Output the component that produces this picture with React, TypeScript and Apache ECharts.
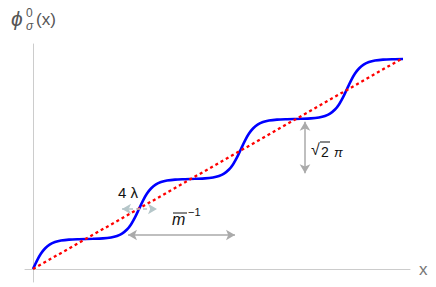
import React, { useEffect, useRef } from "react";
import * as echarts from "echarts";

// x in pixel-like units from origin, y in step units
const blueX = [0, 4, 8, 12, 17, 22, 28, 36, 46, 60, 70, 78, 84, 89, 94, 98, 102, 106, 110, 114, 118, 123, 128, 134, 142, 152, 162, 172, 180, 186, 191, 196, 200, 204, 208, 212, 216, 220, 225, 230, 236, 244, 254, 268, 278, 286, 292, 297, 302, 306, 310, 314, 318, 322, 326, 331, 336, 342, 350, 360, 370];
const blueY = [0, 0.141, 0.257, 0.342, 0.41, 0.449, 0.474, 0.49, 0.497, 0.503, 0.51, 0.526, 0.551, 0.59, 0.658, 0.743, 0.859, 1.0, 1.141, 1.257, 1.342, 1.41, 1.449, 1.474, 1.49, 1.497, 1.503, 1.51, 1.526, 1.551, 1.59, 1.658, 1.743, 1.859, 2.0, 2.141, 2.257, 2.342, 2.41, 2.449, 2.474, 2.49, 2.497, 2.503, 2.51, 2.526, 2.551, 2.59, 2.658, 2.743, 2.859, 3.0, 3.141, 3.257, 3.342, 3.41, 3.449, 3.474, 3.49, 3.497, 3.5];
const redX = [0, 370];
const redY = [0, 3.517];

export default function App() {
  const ref = useRef<HTMLDivElement>(null);
  useEffect(() => {
    if (!ref.current) return;
    const chart = echarts.init(ref.current, null, { renderer: "svg" });
    const arrowGray = "#aaaaaa";
    const F = "'Liberation Sans', Arial, sans-serif";
    const mkArrow = (a: number[], b: number[], color: string, type: any = "solid") => ({
      symbol: ["arrow", "arrow"],
      symbolSize: [8, 9],
      silent: true,
      label: { show: false },
      lineStyle: { color, width: 1.5, type },
      data: [[{ coord: a }, { coord: b }]],
    });
    chart.setOption({
      animation: false,
      grid: { left: 25, right: 26, top: 44, bottom: 5 },
      xAxis: {
        type: "value",
        min: -8,
        max: 377,
        axisLine: { onZero: true, lineStyle: { color: "#cccccc", width: 1 } },
        axisTick: { show: false },
        axisLabel: { show: false },
        splitLine: { show: false },
      },
      yAxis: {
        type: "value",
        min: -0.2167,
        max: 3.75,
        axisLine: { show: true, onZero: true, lineStyle: { color: "#cccccc", width: 1 } },
        axisTick: { show: false },
        axisLabel: { show: false },
        splitLine: { show: false },
      },
      series: [
        {
          type: "line",
          data: blueX.map((x, i) => [x, blueY[i]]),
          smooth: 0.3,
          showSymbol: false,
          lineStyle: { color: "#0000ff", width: 2.6 },
          z: 3,
          markLine: mkArrow([272, 2.455], [272, 1.595], arrowGray),
        },
        {
          type: "line",
          data: redX.map((x, i) => [x, redY[i]]),
          showSymbol: false,
          lineStyle: { color: "#ff0000", width: 2.3, type: [3, 3] },
          z: 4,
          markLine: mkArrow([95, 0.567], [202, 0.567], arrowGray),
        },
        {
          type: "line",
          data: [],
          markLine: mkArrow([89, 1.0], [124, 1.0], "#b5c6c9", [4, 3]),
        },
      ],
      graphic: [
        { type: "text", left: 11, top: 8, style: { text: "ϕ", font: `italic 21px ${F}`, fill: "#555" } },
        { type: "text", left: 26, top: 7, style: { text: "0", font: `12px ${F}`, fill: "#555" } },
        { type: "text", left: 26, top: 20, style: { text: "σ", font: `italic 12px ${F}`, fill: "#555" } },
        { type: "text", left: 36, top: 11, style: { text: "(x)", font: `17px ${F}`, fill: "#555" } },
        { type: "text", left: 419, top: 261, style: { text: "x", font: `17px ${F}`, fill: "#777" } },
        { type: "text", left: 118, top: 185, style: { text: "4 λ", font: `15px ${F}`, fill: "#111" } },
        { type: "text", left: 172, top: 211, style: { text: "m", font: `italic 16px ${F}`, fill: "#111" } },
        { type: "line", shape: { x1: 173, y1: 213, x2: 187, y2: 213 }, style: { stroke: "#111", lineWidth: 1 } },
        { type: "text", left: 188, top: 206, style: { text: "−1", font: `11px ${F}`, fill: "#111" } },
        { type: "text", left: 311, top: 141, style: { text: "√", font: `16px ${F}`, fill: "#111" } },
        { type: "line", shape: { x1: 320, y1: 142, x2: 330, y2: 142 }, style: { stroke: "#111", lineWidth: 1 } },
        { type: "text", left: 321, top: 145, style: { text: "2", font: `14px ${F}`, fill: "#111" } },
        { type: "text", left: 334, top: 146, style: { text: "π", font: `italic 13px ${F}`, fill: "#111" } },
      ],
    });
    return () => chart.dispose();
  }, []);
  return <div ref={ref} style={{ width: 436, height: 287, position: "absolute", left: 0, top: 0 }} />;
}
